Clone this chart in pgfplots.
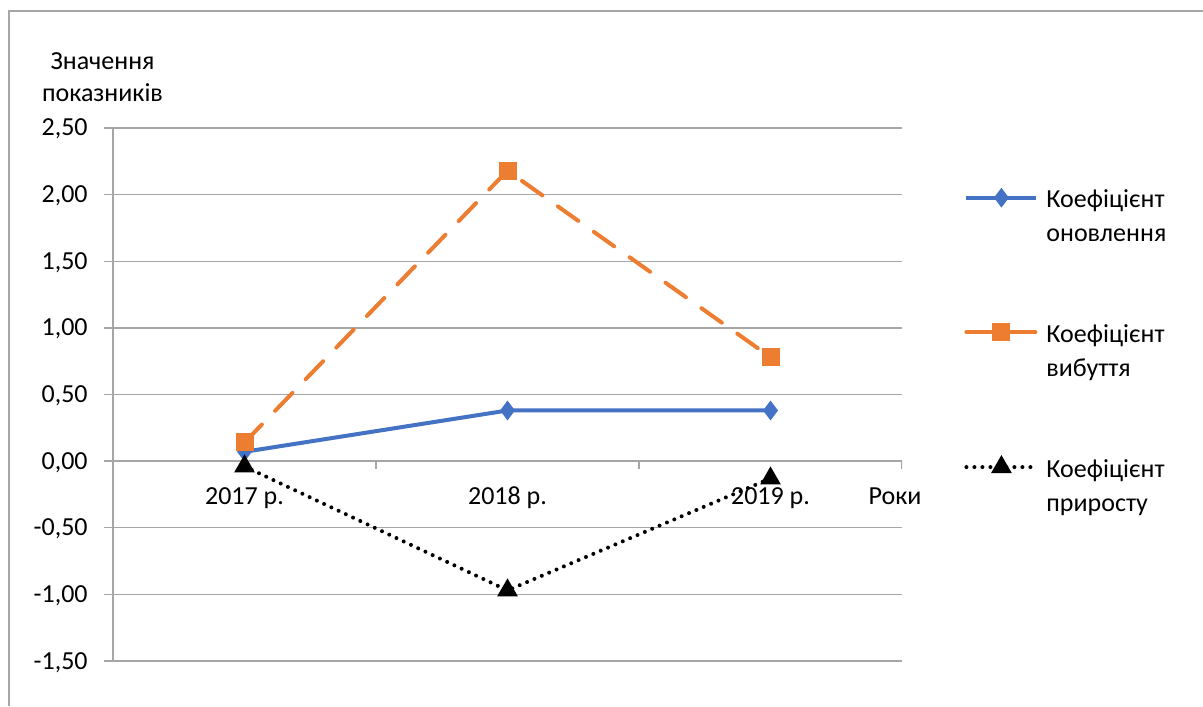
\documentclass[border=0pt]{standalone}
\usepackage{fontspec}
\setmainfont{Carlito}
\usepackage{pgfplots}
\pgfplotsset{compat=1.18}
\definecolor{gridgray}{HTML}{A6A6A6}
\definecolor{renew}{HTML}{4472C4}
\definecolor{retire}{HTML}{ED7D31}

\begin{document}
\fontsize{13pt}{17pt}\selectfont
\begin{tikzpicture}
\begin{axis}[
    at={(56.5pt,22.5pt)}, anchor=south west,
    scale only axis, width=394.5pt, height=266.5pt,
    xmin=-0.5, xmax=2.5, ymin=-1.5, ymax=2.5,
    axis x line=middle, axis y line=left,
    axis line style={-, draw=gridgray, line width=0.7pt},
    hide obscured x ticks=false, hide obscured y ticks=false,
    xtick={0,1,2}, xticklabels={2017 р.,2018 р.,2019 р.},
    xtick style={draw=none},
    xticklabel style={anchor=base, inner sep=0pt, yshift=-17pt},
    ytick={-1.5,-1,...,2.5},
    ymajorgrids, grid style={gridgray, line width=0.7pt},
    tick align=outside, major tick length=4.5pt,
    ytick style={gridgray, line width=0.7pt},
    yticklabel style={anchor=base east, inner sep=0pt, xshift=-8pt, yshift=-4pt},
    /pgf/number format/assume math mode=true,
    yticklabel={\pgfmathprintnumber[fixed, fixed zerofill, precision=2, use comma]{\tick}},
    tick label style={font=\fontsize{13pt}{17pt}\selectfont, text=black},
    legend image code/.code={\draw[mark repeat=2,mark phase=2,#1] plot coordinates {(0pt,0pt) (17.5pt,0pt) (35pt,0pt)};},
    legend style={at={(1.0786,0.896)}, anchor=north west, draw=none, fill=none,
        inner sep=0pt, row sep=53.5pt, column sep=4pt,
        nodes={inner sep=0pt, font=\fontsize{13pt}{17pt}\selectfont}},
    legend cell align=left,
]
\addplot[renew, line width=2pt, mark=diamond*, mark size=3.3pt, mark options={solid}]
    coordinates {(0,0.07) (1,0.38) (2,0.38)};
\addlegendentry{\begin{tabular}[t]{@{}l@{}}Коефіцієнт\\оновлення\end{tabular}}
\addplot[retire, line width=2pt, line cap=round, dash pattern=on 12.5pt off 9.5pt, mark=square*, mark size=3.5pt, mark options={solid}]
    coordinates {(0,0.14) (1,2.18) (2,0.78)};
\addlegendentry{\begin{tabular}[t]{@{}l@{}}Коефіцієнт\\вибуття\end{tabular}}
\addplot[black, line width=2pt, line cap=round, dash pattern=on 0pt off 4pt, mark=triangle*, mark size=4pt, mark options={solid}]
    coordinates {(0,-0.04) (1,-0.97) (2,-0.13)};
\addlegendentry{\begin{tabular}[t]{@{}l@{}}Коефіцієнт\\приросту\end{tabular}}
\draw[gridgray, line width=0.7pt] (axis cs:0.5,0) -- ++(0pt,-4pt);
\draw[gridgray, line width=0.7pt] (axis cs:1.5,0) -- ++(0pt,-4pt);
\draw[gridgray, line width=0.7pt] (axis cs:2.5,0) -- ++(0pt,-4pt);
\end{axis}
\begin{scope}[x=0.5pt, y=0.5pt]
\draw[gridgray, line width=0.7pt] (9,0) -- (9,695) -- (1203,695);
\node[align=center, inner sep=0pt, font=\fontsize{13pt}{16pt}\selectfont] at (102.5,629) {Значення\\показників};
\node[anchor=base, inner sep=0pt] at (895,201) {Роки};
\end{scope}
\pgfresetboundingbox
\useasboundingbox (0,0) rectangle (601.5pt,353pt);
\end{tikzpicture}
\end{document}
